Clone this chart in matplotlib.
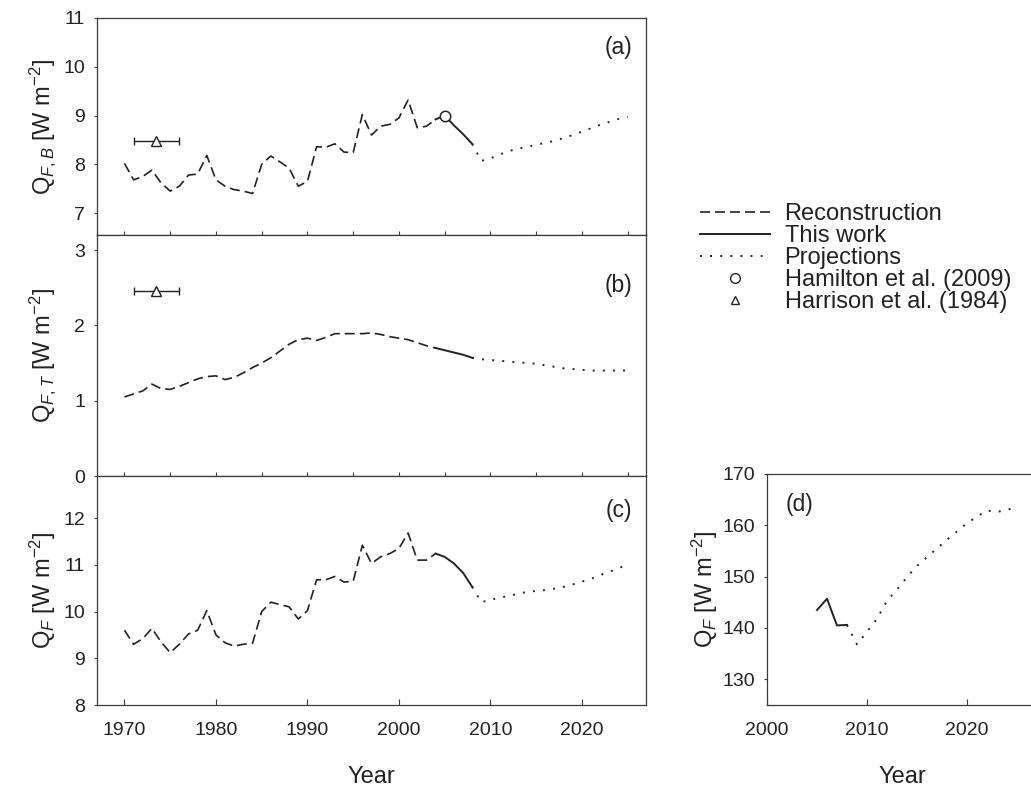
import matplotlib
matplotlib.use("Agg")
import matplotlib.pyplot as plt
from matplotlib.lines import Line2D

plt.rcParams['font.family'] = ['Liberation Sans', 'DejaVu Sans']
plt.rcParams['mathtext.fontset'] = 'custom'
plt.rcParams['mathtext.rm'] = 'Liberation Sans'
plt.rcParams['mathtext.it'] = 'Liberation Sans:italic'
plt.rcParams['mathtext.bf'] = 'Liberation Sans:bold'

# ---- data ----
years_rec = list(range(1970, 2005))
years_this = list(range(2004, 2009))
years_proj = list(range(2008, 2026))

qfb_rec = [8.02, 7.68, 7.75, 7.88, 7.62, 7.45, 7.55, 7.78, 7.80, 8.18,
           7.68, 7.55, 7.48, 7.45, 7.40, 8.00, 8.17, 8.05, 7.92, 7.55,
           7.65, 8.36, 8.35, 8.42, 8.25, 8.24, 9.02, 8.60, 8.78, 8.82,
           8.95, 9.32, 8.75, 8.78, 8.92]
qfb_this = [8.92, 9.00, 8.80, 8.62, 8.42]
qfb_proj = [8.42, 8.07, 8.12, 8.20, 8.27, 8.32, 8.36, 8.40, 8.44, 8.48,
            8.54, 8.60, 8.67, 8.74, 8.81, 8.87, 8.93, 8.97]

qft_rec = [1.05, 1.09, 1.13, 1.22, 1.16, 1.15, 1.19, 1.24, 1.29, 1.32,
           1.33, 1.28, 1.31, 1.37, 1.44, 1.50, 1.57, 1.66, 1.75, 1.81,
           1.83, 1.80, 1.84, 1.89, 1.89, 1.89, 1.89, 1.90, 1.88, 1.85,
           1.83, 1.81, 1.77, 1.73, 1.70]
qft_this = [1.70, 1.67, 1.64, 1.61, 1.57]
qft_proj = [1.57, 1.55, 1.54, 1.53, 1.52, 1.51, 1.50, 1.49, 1.47, 1.45,
            1.43, 1.42, 1.41, 1.40, 1.40, 1.40, 1.40, 1.40]

qf_rec = [9.60, 9.30, 9.42, 9.64, 9.35, 9.12, 9.30, 9.52, 9.60, 10.02,
          9.50, 9.33, 9.26, 9.30, 9.32, 10.00, 10.20, 10.15, 10.10, 9.84,
          10.02, 10.68, 10.68, 10.75, 10.63, 10.65, 11.42, 11.03, 11.17, 11.24,
          11.35, 11.68, 11.10, 11.10, 11.24]
qf_this = [11.24, 11.17, 11.03, 10.83, 10.53]
qf_proj = [10.53, 10.20, 10.25, 10.30, 10.33, 10.38, 10.42, 10.44, 10.46, 10.49,
           10.53, 10.58, 10.64, 10.70, 10.78, 10.85, 10.93, 11.00]

years_d_this = [2005, 2006, 2007, 2008]
qfd_this = [143.5, 145.7, 140.5, 140.6]
qfd_proj = [140.6, 136.8, 139.3, 141.8, 145.3, 147.5, 149.9, 152.1, 153.8, 155.5,
            157.2, 158.8, 160.4, 161.7, 162.9, 162.6, 163.0, 163.6]

harrison_year = 1973.5
harrison_err = 2.5
harrison_qfb = 8.48
harrison_qft = 2.45
hamilton_year = 2005
hamilton_qfb = 9.0

# ---- styling ----
INK = '#222222'
DASH = (0, (6, 3))
DOT = (0, (1, 4.2))
LW = 1.2
TICK_FS = 14
LABEL_FS = 17

fig = plt.figure(figsize=(10.31, 7.91), dpi=100)
W, H = 1031.0, 791.0


def px_axes(left, top, right, bottom):
    return fig.add_axes([left / W, 1 - bottom / H, (right - left) / W, (bottom - top) / H])


ax_a = px_axes(97, 18, 646, 235)
ax_b = px_axes(97, 235, 646, 476)
ax_c = px_axes(97, 476, 646, 705)
ax_d = px_axes(767, 474, 1037, 705)


def draw_series(ax, rec, this, proj):
    ax.plot(years_rec, rec, color=INK, lw=LW, linestyle=DASH)
    ax.plot(years_this, this, color=INK, lw=LW + 0.2, linestyle='-')
    ax.plot(years_proj, proj, color=INK, lw=LW + 0.2, linestyle=DOT)


draw_series(ax_a, qfb_rec, qfb_this, qfb_proj)
draw_series(ax_b, qft_rec, qft_this, qft_proj)
draw_series(ax_c, qf_rec, qf_this, qf_proj)

ax_d.plot(years_d_this, qfd_this, color=INK, lw=LW + 0.2, linestyle='-')
ax_d.plot(years_proj, qfd_proj, color=INK, lw=LW + 0.2, linestyle=DOT)

# Harrison et al. (1984) and Hamilton et al. (2009)
for ax, val in [(ax_a, harrison_qfb), (ax_b, harrison_qft)]:
    ax.errorbar([harrison_year], [val], xerr=[harrison_err], fmt='^', ms=7,
                mfc='white', mec=INK, mew=1.0, ecolor=INK, elinewidth=1.0,
                capsize=3, capthick=1.0, zorder=5)
ax_a.plot([hamilton_year], [hamilton_qfb], 'o', ms=7.5, mfc='white', mec=INK,
          mew=1.1, zorder=5)

# ---- axes ----
for ax in (ax_a, ax_b, ax_c, ax_d):
    for sp in ax.spines.values():
        sp.set_color('#3a3a3a')
        sp.set_linewidth(0.9)
    ax.tick_params(axis='y', direction='out', length=2.5, width=0.8,
                   labelsize=TICK_FS, pad=6, colors='#3a3a3a', labelcolor=INK)
    ax.tick_params(axis='x', labelsize=TICK_FS, colors='#3a3a3a', labelcolor=INK)

for ax in (ax_a, ax_b, ax_c):
    ax.set_xlim(1967, 2027)

for ax in (ax_a, ax_b):
    ax.set_xticks(list(range(1970, 2026, 5)))
    ax.tick_params(axis='x', direction='inout', length=6, width=0.8,
                   labelbottom=False)

ax_c.set_xticks([1970, 1980, 1990, 2000, 2010, 2020])
ax_c.tick_params(axis='x', direction='in', length=4, width=0.8, pad=12)

ax_a.set_ylim(6.55, 11)
ax_a.set_yticks([7, 8, 9, 10, 11])
ax_b.set_ylim(0, 3.2)
ax_b.set_yticks([0, 1, 2, 3])
ax_c.set_ylim(8, 12.9)
ax_c.set_yticks([8, 9, 10, 11, 12])

ax_d.set_xlim(2000, 2027)
ax_d.set_xticks([2000, 2010, 2020])
ax_d.tick_params(axis='x', direction='in', length=4, width=0.8, pad=12)
ax_d.set_ylim(125, 170)
ax_d.set_yticks([130, 140, 150, 160, 170])
ax_d.spines['right'].set_visible(False)

lab_kw = dict(fontsize=LABEL_FS, color=INK)
ax_a.set_ylabel(r'Q$_{F,B}$ [W m$^{-2}$]', labelpad=4, **lab_kw)
ax_b.set_ylabel(r'Q$_{F,T}$ [W m$^{-2}$]', labelpad=12, **lab_kw)
ax_c.set_ylabel(r'Q$_{F}$ [W m$^{-2}$]', labelpad=4, **lab_kw)
ax_d.set_ylabel(r'Q$_{F}$ [W m$^{-2}$]', labelpad=2, **lab_kw)
ax_c.set_xlabel('Year', labelpad=20, **lab_kw)
ax_d.set_xlabel('Year', labelpad=20, **lab_kw)

panel_fs = 16.5
ax_a.text(0.975, 0.862, '(a)', transform=ax_a.transAxes, ha='right', va='center',
          fontsize=panel_fs, color=INK)
ax_b.text(0.975, 0.79, '(b)', transform=ax_b.transAxes, ha='right', va='center',
          fontsize=panel_fs, color=INK)
ax_c.text(0.975, 0.85, '(c)', transform=ax_c.transAxes, ha='right', va='center',
          fontsize=panel_fs, color=INK)
ax_d.text(0.07, 0.866, '(d)', transform=ax_d.transAxes, ha='left', va='center',
          fontsize=panel_fs, color=INK)

# ---- legend ----
handles = [
    Line2D([], [], color=INK, lw=LW, linestyle=DASH),
    Line2D([], [], color=INK, lw=LW + 0.2, linestyle='-'),
    Line2D([], [], color=INK, lw=LW + 0.2, linestyle=DOT),
    Line2D([], [], color=INK, linestyle='none', marker='o', ms=7, mfc='white', mec=INK),
    Line2D([], [], color=INK, linestyle='none', marker='^', ms=6, mfc='white', mec=INK),
]
labels = ['Reconstruction', 'This work', 'Projections',
          'Hamilton et al. (2009)', 'Harrison et al. (1984)']
fig.legend(handles, labels, loc='upper left', bbox_to_anchor=(700 / W, 1 - 203 / H),
           frameon=False, fontsize=17, handlelength=2.96, handletextpad=0.62,
           labelspacing=0.0, borderaxespad=0, borderpad=0, labelcolor=INK)

fig.savefig('out.png', dpi=100)
